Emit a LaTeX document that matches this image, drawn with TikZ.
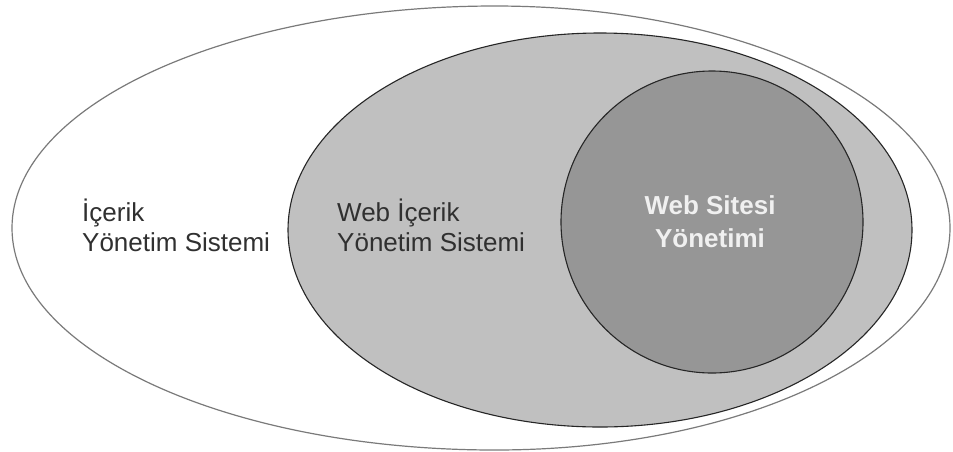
\documentclass[tikz,border=0pt]{standalone}
\usepackage{fontspec}
\setmainfont{Liberation Sans}
\definecolor{midgray}{HTML}{C0C0C0}
\definecolor{innergray}{HTML}{969696}
\definecolor{txtgray}{HTML}{303030}
\definecolor{outline}{HTML}{7A7A7A}
\tikzset{
  lbl/.style={align=left, text=txtgray, font=\fontsize{26}{30}\selectfont, inner sep=0pt, anchor=north west},
  lblw/.style={align=center, text=white!94!black, font=\fontsize{26}{33}\selectfont\bfseries, inner sep=0pt}
}
\begin{document}
\begin{tikzpicture}[x=1pt,y=-1pt]
\useasboundingbox (0,0) rectangle (953,451);
\fill[white] (0,0) rectangle (953,451);
% outer egg: fuller left half, tighter right half
\draw[outline, line width=1.2pt] (495,6)
  arc[start angle=90, end angle=270, x radius=483pt, y radius=222pt]
  arc[start angle=-90, end angle=90, x radius=455pt, y radius=222pt] -- cycle;
\draw[black!85, fill=midgray, line width=1.1pt] (600,230) ellipse [x radius=312pt, y radius=197pt];
\draw[black!85, fill=innergray, line width=1.1pt] (712,222) circle [radius=151pt];
\node[lbl] (ics) at (82,199) {İçerik\\Yönetim Sistemi};
\node[lbl] (wics) at (337,199) {Web İçerik\\Yönetim Sistemi};
\node[lblw] (wsy) at (710,222) {Web Sitesi\\Yönetimi};
\end{tikzpicture}
\end{document}
